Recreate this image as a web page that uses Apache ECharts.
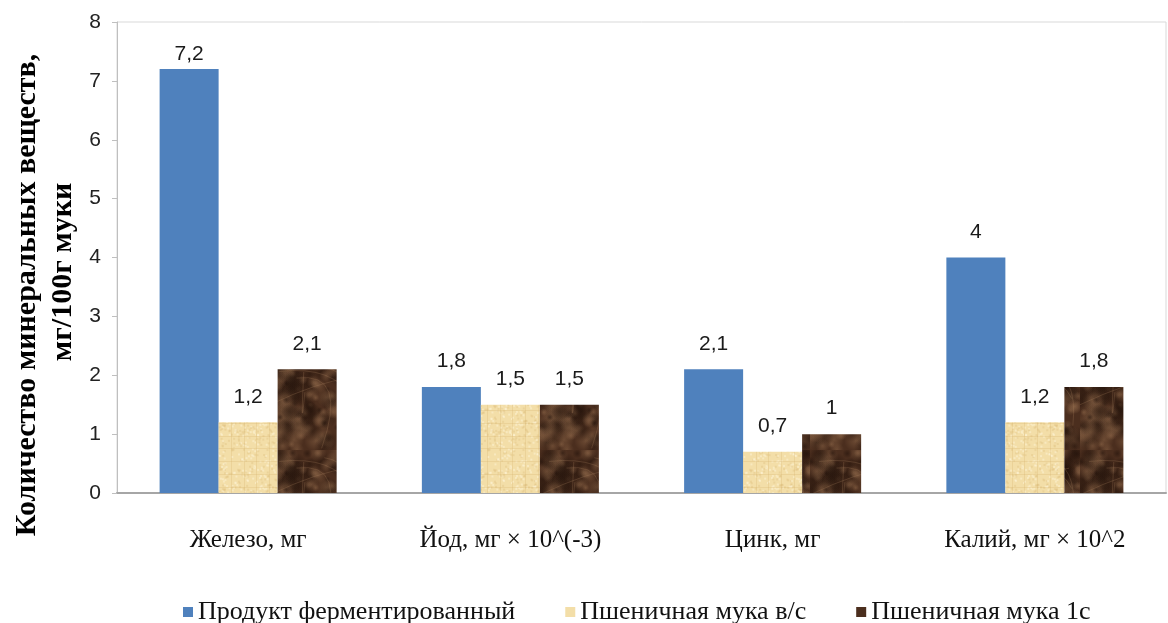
<!DOCTYPE html>
<html>
<head>
<meta charset="utf-8">
<script src="https://cdn.jsdelivr.net/npm/echarts@6/dist/echarts.min.js"></script>
<style>
  html, body { margin: 0; padding: 0; background: #fff; }
  #chart { width: 1168px; height: 623px; }
</style>
</head>
<body>
<div id="chart"></div>
<script>
var categories = ["Железо, мг", "Йод, мг × 10^(-3)", "Цинк, мг", "Калий, мг × 10^2"];
var seriesNames = ["Продукт ферментированный", "Пшеничная мука в/с", "Пшеничная мука 1с"];
var fermented = [7.2, 1.8, 2.1, 4];
var premiumFlour = [1.2, 1.5, 0.7, 1.2];
var firstGradeFlour = [2.1, 1.5, 1, 1.8];
var yTicks = [0, 1, 2, 3, 4, 5, 6, 7, 8];
var yTitle = ["Количество минеральных веществ,", "мг/100г муки"];

// small deterministic noise for the bar textures
var seed = 11;
function rnd() {
  seed = (seed * 16807) % 2147483647;
  return seed / 2147483647;
}

function parchment() {
  var c = document.createElement("canvas");
  c.width = 64; c.height = 64;
  var g = c.getContext("2d");
  g.fillStyle = "#F3DEA8";
  g.fillRect(0, 0, 64, 64);
  for (var i = 0; i < 300; i++) {
    g.fillStyle = rnd() > 0.5 ? "rgba(255,246,220,0.45)" : "rgba(220,185,120,0.3)";
    g.fillRect(rnd() * 64, rnd() * 64, 2, 2);
  }
  g.fillStyle = "rgba(210,175,105,0.25)";
  for (var x = 0; x < 64; x += 13) g.fillRect(x, 0, 1, 64);
  for (var y = 0; y < 64; y += 13) g.fillRect(0, y, 64, 1);
  return c;
}

function marble() {
  var c = document.createElement("canvas");
  c.width = 90; c.height = 90;
  var g = c.getContext("2d");
  g.fillStyle = "#4B2E1E";
  g.fillRect(0, 0, 90, 90);
  for (var i = 0; i < 160; i++) {
    var x = rnd() * 90, y = rnd() * 90, r = 3 + rnd() * 10;
    var light = rnd() > 0.5;
    var grad = g.createRadialGradient(x, y, 0, x, y, r);
    grad.addColorStop(0, light ? "rgba(150,110,78,0.45)" : "rgba(30,15,8,0.5)");
    grad.addColorStop(1, light ? "rgba(150,110,78,0)" : "rgba(30,15,8,0)");
    g.fillStyle = grad;
    g.fillRect(x - r, y - r, r * 2, r * 2);
  }
  g.strokeStyle = "rgba(170,130,95,0.25)";
  g.lineWidth = 1;
  for (var k = 0; k < 5; k++) {
    g.beginPath();
    g.moveTo(rnd() * 90, rnd() * 90);
    g.quadraticCurveTo(rnd() * 90, rnd() * 90, rnd() * 90, rnd() * 90);
    g.stroke();
  }
  return c;
}

var fills = [
  "#4F81BD",
  { image: parchment(), repeat: "repeat" },
  { image: marble(), repeat: "repeat" }
];
var legendColors = ["#4F81BD", "#F3DEA8", "#4B2E1E"];

function fmt(v) {
  return String(v).replace(".", ",");
}

var chart = echarts.init(document.getElementById("chart"));

var data = [fermented, premiumFlour, firstGradeFlour];
var series = data.map(function (vals, i) {
  return {
    name: seriesNames[i],
    type: "bar",
    data: vals.map(function (v) {
      // the tallest label sits closer to its bar, as in the original
      return v > 7 ? { value: v, label: { distance: 4 } } : v;
    }),
    barWidth: "22.5%",
    barGap: "0%",
    itemStyle: { color: fills[i] },
    label: {
      show: true,
      position: "top",
      distance: 15,
      fontFamily: "Liberation Sans",
      fontSize: 21,
      color: "#1a1a1a",
      formatter: function (p) { return fmt(p.value); }
    }
  };
});

chart.setOption({
  animation: false,
  grid: {
    left: 117, right: 2, top: 22, bottom: 130,
    outerBoundsMode: "none",
    containLabel: false,
    show: true, borderColor: "#D9D9D9", borderWidth: 1
  },
  legend: {
    top: 594,
    left: 178,
    itemWidth: 10,
    itemHeight: 10,
    itemGap: 50,
    icon: "rect",
    textStyle: { fontFamily: "Liberation Serif", fontSize: 26, color: "#111" },
    data: seriesNames.map(function (n, i) {
      return { name: n, itemStyle: { color: legendColors[i] } };
    })
  },
  graphic: [
    {
      type: "text", x: 27, y: 295, rotation: Math.PI / 2,
      style: {
        text: yTitle[0], font: "bold 30px 'Liberation Serif'",
        fill: "#000", textAlign: "center", textVerticalAlign: "middle"
      }
    },
    {
      type: "text", x: 63, y: 272, rotation: Math.PI / 2,
      style: {
        text: yTitle[1], font: "bold 30px 'Liberation Serif'",
        fill: "#000", textAlign: "center", textVerticalAlign: "middle"
      }
    }
  ],
  xAxis: {
    type: "category",
    data: categories,
    axisLine: { lineStyle: { color: "#A6A6A6", width: 2 } },
    axisTick: { show: false },
    axisLabel: {
      margin: 35,
      fontFamily: "Liberation Serif",
      fontSize: 25,
      color: "#111"
    }
  },
  yAxis: {
    type: "value",
    min: yTicks[0],
    max: yTicks[yTicks.length - 1],
    interval: 1,
    axisLine: { show: true, lineStyle: { color: "#BFBFBF" } },
    axisTick: { show: true, length: 5, lineStyle: { color: "#BFBFBF" } },
    splitLine: { show: false },
    axisLabel: {
      margin: 16,
      fontFamily: "Liberation Sans",
      fontSize: 21,
      color: "#222"
    }
  },
  series: series
});
</script>
</body>
</html>
